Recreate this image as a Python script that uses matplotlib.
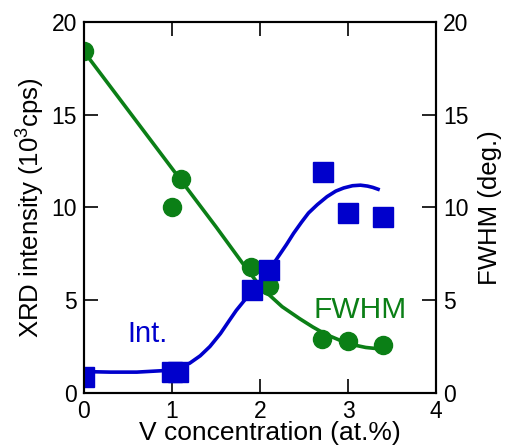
import matplotlib
matplotlib.use('Agg')
import matplotlib.pyplot as plt

plt.rcParams['font.family'] = ['Liberation Sans', 'DejaVu Sans']
plt.rcParams['mathtext.fontset'] = 'custom'
plt.rcParams['mathtext.rm'] = 'Liberation Sans'
plt.rcParams['mathtext.it'] = 'Liberation Sans:italic'

green = '#0b7f16'
blue = '#0000cc'

# measured points
fwhm_x = [0.0, 1.0, 1.1, 1.9, 2.1, 2.7, 3.0, 3.4]
fwhm_y = [18.45, 10.0, 11.55, 6.8, 5.77, 2.9, 2.82, 2.6]
int_x = [0.0, 1.0, 1.07, 1.91, 2.1, 2.71, 3.0, 3.4]
int_y = [0.85, 1.1, 1.15, 5.55, 6.6, 11.9, 9.7, 9.5]

# fitted guide curves
fwhm_fit_x = [0.0, 0.5, 1.0, 1.5, 1.8, 1.96, 2.1, 2.25, 2.45, 2.6, 2.75, 2.9, 3.05, 3.2, 3.4]
fwhm_fit_y = [18.4, 15.25, 12.1, 8.95, 7.0, 6.0, 5.3, 4.65, 4.0, 3.55, 3.15, 2.85, 2.6, 2.45, 2.35]
int_fit_x = [0.0, 0.3, 0.6, 0.9, 1.05, 1.2, 1.32, 1.43, 1.55, 1.65, 1.73, 1.85, 2.0, 2.1, 2.2, 2.3, 2.38,
             2.47, 2.55, 2.65, 2.76, 2.86, 2.95, 3.05, 3.14, 3.22, 3.28, 3.34]
int_fit_y = [1.15, 1.12, 1.12, 1.2, 1.35, 1.6, 2.0, 2.5, 3.2, 3.9, 4.45, 5.15, 5.9, 6.6, 7.3, 8.0, 8.6,
             9.2, 9.7, 10.15, 10.58, 10.88, 11.05, 11.17, 11.2, 11.15, 11.08, 10.98]

fig = plt.figure(figsize=(5.06, 4.48), dpi=100)
ax = fig.add_axes([0.166, 0.123, 0.696, 0.828])
ax2 = ax.twinx()

ax.plot(fwhm_fit_x, fwhm_fit_y, color=green, lw=2.6, zorder=2)
ax.plot(int_fit_x, int_fit_y, color=blue, lw=2.6, zorder=2)
ax.plot(fwhm_x, fwhm_y, 'o', color=green, ms=13, mec=green, zorder=3)
ax.plot(int_x, int_y, 's', color=blue, ms=14, mec=blue, zorder=3)

ax.text(0.72, 3.2, 'Int.', color=blue, fontsize=21, ha='center', va='center')
ax.text(3.14, 4.45, 'FWHM', color=green, fontsize=21.5, ha='center', va='center')

ax.set_xlim(0, 4)
ax.set_ylim(0, 20)
ax2.set_ylim(0, 20)
ax.set_xticks([0, 1, 2, 3, 4])
ax.set_yticks([0, 5, 10, 15, 20])
ax2.set_yticks([0, 5, 10, 15, 20])

ax.tick_params(direction='in', top=True, length=10, width=1.2, labelsize=16.5, pad=5)
ax2.tick_params(direction='in', length=10, width=1.2, labelsize=16.5, pad=5)
for a in (ax, ax2):
    for s in a.spines.values():
        s.set_linewidth(1.5)

ax.set_xlabel('V concentration (at.%)', fontsize=19, labelpad=0)
ax.xaxis.set_label_coords(0.528, -0.077, transform=ax.transAxes)
ax.xaxis.label.set_va('top')
ax.set_ylabel('XRD intensity (10$^{\\mathrm{3}}$cps)', fontsize=18.5, labelpad=3)
ax2.set_ylabel('FWHM (deg.)', fontsize=18.5, labelpad=7)

fig.savefig('out.png', dpi=100)
